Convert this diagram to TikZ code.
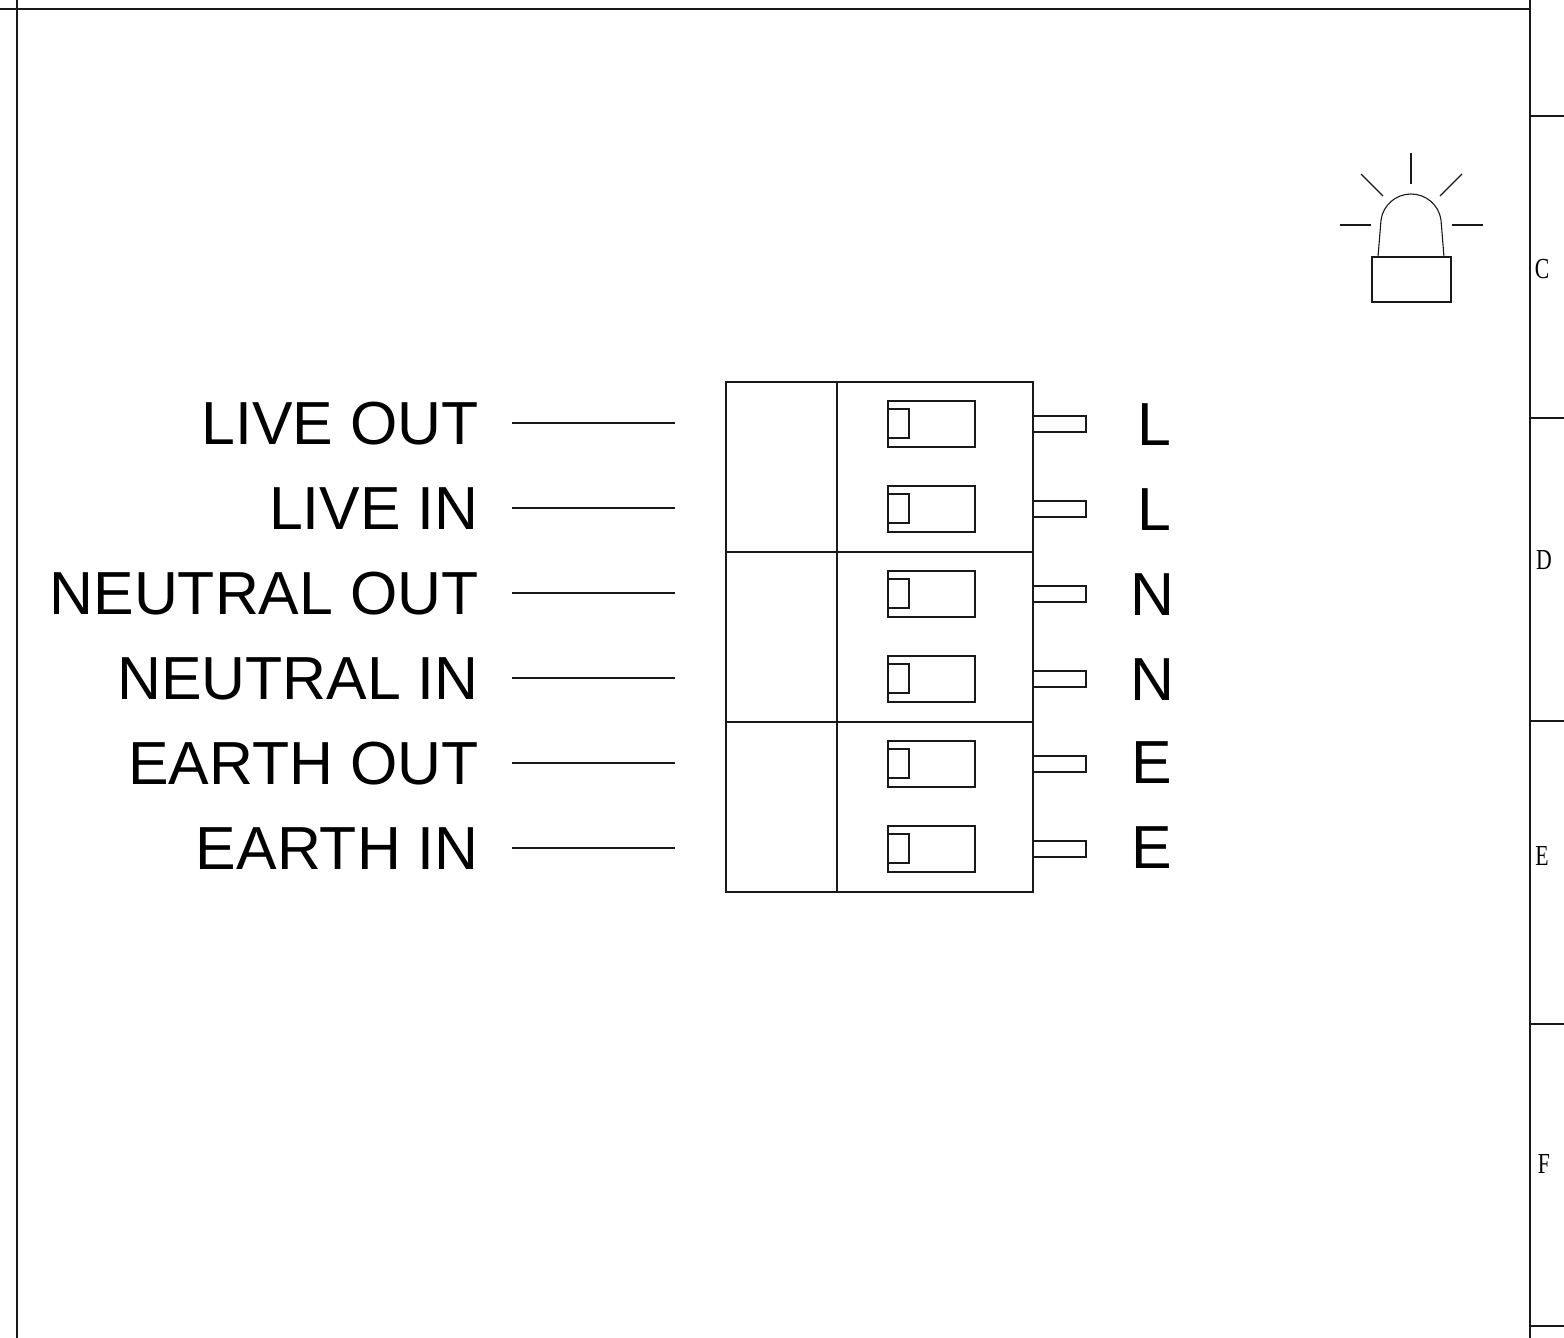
\documentclass[tikz,border=0pt]{standalone}
\usepackage{fontspec}
\setmainfont{Liberation Sans}
\newfontfamily\zoneserif{Liberation Serif}
\begin{document}
\begin{tikzpicture}[x=0.5pt,y=-0.5pt,
  frameline/.style={line width=0.9pt,black!90},
  drawline/.style={line width=0.7pt,black!90},
  thinline/.style={line width=0.55pt,black!90},
  biglabel/.style={font=\fontsize{30.4}{30.4}\selectfont,inner sep=0pt,anchor=base east},
  zonelabel/.style={font=\zoneserif\fontsize{14.5}{14.5}\selectfont,inner sep=0pt,xscale=0.75},
]
\useasboundingbox (0,0) rectangle (1564,1338);
\fill[white] (0,0) rectangle (1564,1338);
% frame
\draw[frameline] (0,9) -- (1530,9);
\draw[frameline] (17,0) -- (17,1338);
\draw[frameline] (1530,0) -- (1530,1338);
\foreach \y in {116,418,721,1024,1326} \draw[thinline] (1530,\y) -- (1564,\y);
\node[zonelabel] (zc) at (1542,269) {C};
\node[zonelabel] (zd) at (1544,560) {D};
\node[zonelabel] (ze) at (1542,856) {E};
\node[zonelabel] (zf) at (1544,1164) {F};
% block
\draw[drawline] (726,382) rectangle (1033,892);
\draw[drawline] (837,382) -- (837,892);
\draw[drawline] (726,552) -- (1033,552);
\draw[drawline] (726,722) -- (1033,722);
% rows
\foreach \r/\y/\base/\txt/\ltr/\lx/\lb in {
  a/423/444/LIVE OUT/L/1172/445,
  b/508/529/LIVE IN/L/1172/530,
  c/593/614/NEUTRAL OUT/N/1175/615,
  d/678/699/NEUTRAL IN/N/1175/700,
  e/763/784/EARTH OUT/E/1172/783,
  f/848/869/EARTH IN/E/1172/868}{
  \node[biglabel] (lab\r) at (479,\base) {\txt};
  \coordinate (ws\r) at (512,\y);
  \coordinate (we\r) at (675,\y);
  \draw[thinline] (ws\r) -- (we\r);
  \draw[thinline] (888,\y-22) rectangle (975,\y+24);
  \draw[thinline] (888,\y-14) -- (909,\y-14) -- (909,\y+15) -- (888,\y+15);
  \draw[thinline] (1033,\y-7) rectangle (1086,\y+9);
  \node[biglabel] (ltr\r) at (\lx,\lb) {\ltr};
}
% lamp
\draw[thinline] (1372,257) rectangle (1451,302);
\draw[thinline] (1378,257) -- (1381,220) .. controls (1383,205) and (1396,194) .. (1411,194) .. controls (1426,194) and (1439,205) .. (1441,220) -- (1444,257);
\draw[thinline] (1411,153) -- (1411,184);
\draw[thinline] (1361,174) -- (1383,196);
\draw[thinline] (1462,174) -- (1440,196);
\draw[thinline] (1340,225) -- (1371,225);
\draw[thinline] (1452,225) -- (1483,225);
\end{tikzpicture}
\end{document}
